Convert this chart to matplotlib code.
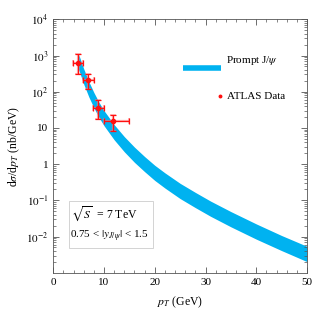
import numpy as np
import matplotlib
matplotlib.use("Agg")
import matplotlib.pyplot as plt
from matplotlib.ticker import FixedLocator, FixedFormatter, MultipleLocator, LogLocator, NullFormatter

plt.rcParams["font.family"] = ["Liberation Serif", "DejaVu Serif"]
plt.rcParams["mathtext.fontset"] = "stix"

# prompt J/psi band (upper / lower edge), nb/GeV
pt_band = [5, 6, 7, 8, 9, 10, 12, 14, 16, 18, 20, 22, 25, 28, 31, 35, 40, 45, 50]
band_hi = [1070, 427, 191, 95, 51, 30, 12.3, 5.75, 2.95, 1.62, 0.93, 0.575, 0.295,
           0.166, 0.0955, 0.049, 0.0224, 0.0107, 0.0054]
band_lo = [407, 162, 72, 36, 19.5, 11.5, 4.7, 2.19, 1.12, 0.62, 0.355, 0.219, 0.112,
           0.063, 0.0363, 0.0186, 0.0085, 0.0041, 0.00204]

# ATLAS data
pt_data = [4.9, 6.9, 8.86, 11.8]
xs_data = [608, 210, 36, 15.3]
xs_lo = [300, 121, 17.9, 8.1]
xs_hi = [1120, 318, 58.5, 22.5]
pt_lo = [3.94, 5.9, 7.87, 10.0]
pt_hi = [5.91, 8.0, 9.98, 14.96]

yerr = [np.array(xs_data) - np.array(xs_lo), np.array(xs_hi) - np.array(xs_data)]
xerr = [np.array(pt_data) - np.array(pt_lo), np.array(pt_hi) - np.array(pt_data)]

fig = plt.figure(figsize=(3.16, 3.16), dpi=100)
ax = fig.add_axes([0.1687, 0.1367, 0.8028, 0.8022])

blue = "#00B2F0"
ax.fill_between(pt_band, band_lo, band_hi, color=blue, lw=0)

# light systematic layer + solid statistical layer
ax.errorbar(pt_data, xs_data, xerr=xerr, yerr=yerr, fmt="none", ecolor="#FF8080",
            elinewidth=1.6, capsize=2.5, capthick=1.2, alpha=0.6)
ax.errorbar(pt_data, xs_data, xerr=xerr, yerr=yerr, fmt="o", color="#FF1010",
            ms=3, elinewidth=0.9, capsize=2, capthick=0.9)

ax.set_yscale("log")
ax.set_xlim(0, 50)
ax.set_ylim(1e-3, 1e4)

ax.yaxis.set_major_locator(FixedLocator([1e-2, 1e-1, 1, 10, 1e2, 1e3, 1e4]))
ax.yaxis.set_major_formatter(FixedFormatter(
    [r"$10^{-2}$", r"$10^{-1}$", "1", "10", r"$10^{2}$", r"$10^{3}$", r"$10^{4}$"]))
ax.yaxis.set_minor_locator(LogLocator(base=10, subs=np.arange(2, 10), numticks=20))
ax.yaxis.set_minor_formatter(NullFormatter())
ax.xaxis.set_major_locator(MultipleLocator(10))
ax.xaxis.set_minor_locator(MultipleLocator(2))

ax.tick_params(which="both", direction="in", top=True, right=True, labelsize=8, color="#555555")
ax.tick_params(which="major", length=4, width=0.6)
ax.tick_params(which="minor", length=2, width=0.5)
for s in ax.spines.values():
    s.set_linewidth(0.6)
    s.set_color("#555555")

ax.set_xlabel(r"$p_T$ (GeV)", fontsize=8.5, labelpad=6)
ax.set_ylabel(r"d$\sigma$/d$p_T$ (nb/GeV)", fontsize=8.5, labelpad=3)

# legend, drawn by hand
ax.plot([0.512, 0.662], [0.808, 0.808], transform=ax.transAxes, color=blue, lw=4, solid_capstyle="butt")
ax.text(0.681, 0.839, r"Prompt J/$\psi$", transform=ax.transAxes, fontsize=8, va="center")
ax.plot([0.657], [0.697], transform=ax.transAxes, marker="o", ms=1.8, color="#FF1010")
ax.text(0.685, 0.697, "ATLAS Data", transform=ax.transAxes, fontsize=8, va="center")

# info box
ax.add_patch(plt.Rectangle((0.062, 0.098), 0.331, 0.185, transform=ax.transAxes,
                           fill=False, ec="#CCCCCC", lw=0.6))
ax.text(0.068, 0.232, r"$\sqrt{S}$  = 7 TeV", transform=ax.transAxes, fontsize=8.5, va="center")
ax.text(0.066, 0.145, r"0.75 < $|y_{J/\psi}|$ < 1.5", transform=ax.transAxes, fontsize=8, va="center")

fig.savefig("out.png", dpi=100)
